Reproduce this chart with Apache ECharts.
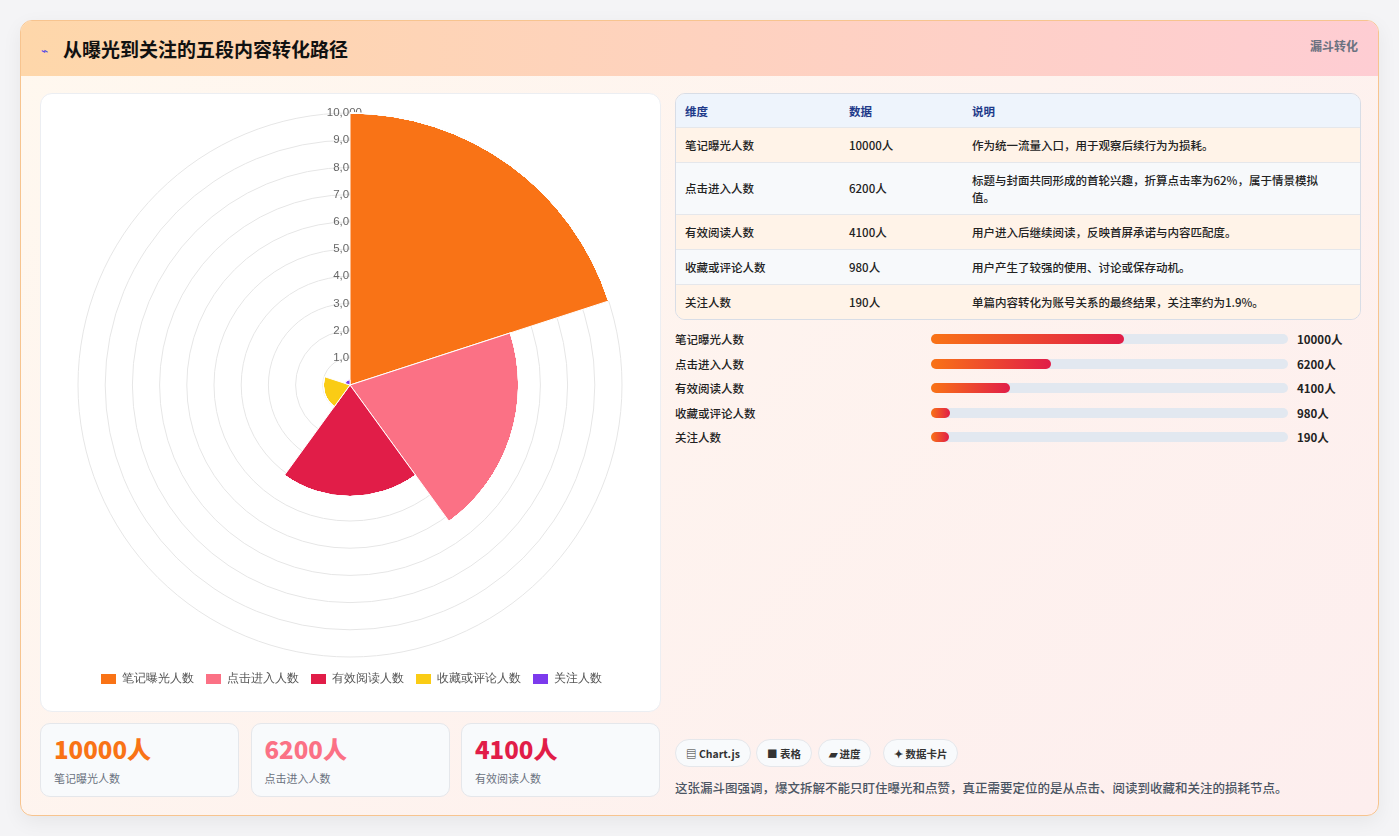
<!DOCTYPE html>
<html><head><meta charset="utf-8">
<script src="https://cdn.jsdelivr.net/npm/echarts@6/dist/echarts.min.js"></script>
<style>
*{box-sizing:border-box;margin:0;padding:0}
body{width:1399px;height:836px;background:#f4f4f6;font-family:"Noto Sans CJK SC","Noto Sans",sans-serif;position:relative;overflow:hidden}
.card{position:absolute;left:20px;top:20px;width:1359px;height:796px;border:1px solid #f7c48f;border-radius:12px;background:linear-gradient(135deg,#fff8ef,#fdeeee);overflow:hidden;box-shadow:0 6px 20px rgba(0,0,0,.06)}
.head{height:55px;background:linear-gradient(90deg,#fed7aa,#fecdd3);position:relative}
.head h1{position:absolute;left:42px;top:14px;font-size:19px;font-weight:700;color:#111}
.head .ic{position:absolute;left:20px;top:20px;font-size:12px;color:#4f46e5}
.head .tag{position:absolute;right:20px;top:16px;font-size:12px;color:#6b7280;font-weight:600}
#chart{position:absolute;left:19px;top:72px;width:621px;height:619px;background:#fff;border:1px solid #eceef2;border-radius:12px}
.kpi{position:absolute;top:702px;width:199px;height:74px;background:#f8fafc;border:1px solid #e5e7eb;border-radius:10px;padding:10px 13px}
.kpi b{display:block;font-size:24px;font-weight:800;line-height:30px}
.kpi span{font-size:11px;color:#6b7280}
table{position:absolute;left:654px;top:72px;width:686px;border-collapse:separate;border-spacing:0;border:1px solid #d8dde6;border-radius:10px;overflow:hidden;font-size:11.5px;color:#222;font-weight:500}
th{background:#eef4fc;color:#1e3a8a;text-align:left;font-weight:600;height:33px;padding:0 9px}
td{padding:6px 9px;border-top:1px solid #e5e7eb;vertical-align:middle;line-height:17px}
tr:nth-child(even) td{background:#fff3e8}tr:nth-child(odd) td{background:#f7f9fb}
.prow{position:absolute;left:654px;width:700px;height:20px;font-size:11.5px;color:#222;font-weight:500}
.prow .l{position:absolute;left:0;top:2px}
.prow .t{position:absolute;left:256px;top:5px;width:357px;height:10px;border-radius:5px;background:#e2e8f0}
.prow .f{height:10px;border-radius:5px;background:linear-gradient(90deg,#f97316,#e11d48)}
.prow .v{position:absolute;left:622px;top:2px;font-weight:600}
.chip{position:absolute;top:718px;height:28px;border:1px solid #e5e7eb;border-radius:14px;background:#f8fafc;font-size:10.5px;font-weight:600;color:#333;padding:6px 10px}
.note{position:absolute;left:654px;top:757px;font-size:12.5px;font-weight:500;color:#4b5563}
</style></head><body>
<div class="card">
<div class="head"><span class="ic">⌁</span><h1>从曝光到关注的五段内容转化路径</h1><span class="tag">漏斗转化</span></div>
<div id="chart"></div>
<div id="kpis"></div>
<table id="tbl"></table>
<div id="prog"></div>
<div class="chip" style="left:654px">▤ Chart.js</div>
<div class="chip" style="left:735px">■ 表格</div>
<div class="chip" style="left:797px">▰ 进度</div>
<div class="chip" style="left:862px">✦ 数据卡片</div>
<div class="note">这张漏斗图强调，爆文拆解不能只盯住曝光和点赞，真正需要定位的是从点击、阅读到收藏和关注的损耗节点。</div>
</div>
<script>
const categories=["笔记曝光人数","点击进入人数","有效阅读人数","收藏或评论人数","关注人数"];
const values=[10000,6200,4100,980,190];
const colors=["#f97316","#fb7185","#e11d48","#facc15","#7c3aed"];
const notes=["作为统一流量入口，用于观察后续行为为损耗。","标题与封面共同形成的首轮兴趣，折算点击率为62%，属于情景模拟值。","用户进入后继续阅读，反映首屏承诺与内容匹配度。","用户产生了较强的使用、讨论或保存动机。","单篇内容转化为账号关系的最终结果，关注率约为1.9%。"];
const radiusTicks=[0,1000,2000,3000,4000,5000,6000,7000,8000,9000,10000];

let h='<tr><th style="width:164px">维度</th><th style="width:123px">数据</th><th>说明</th></tr>';
categories.forEach((c,i)=>{h+=`<tr><td>${c}</td><td>${values[i]}人</td><td style="height:${i==1?52:35}px;padding-right:26px">${notes[i]}</td></tr>`});
document.getElementById('tbl').innerHTML=h;
let p='';const mx=Math.max(...values);
categories.forEach((c,i)=>{const w=Math.max(values[i]/mx*54,5);p+=`<div class="prow" style="top:${308+i*24.5}px"><span class="l">${c}</span><div class="t"><div class="f" style="width:${w}%"></div></div><span class="v">${values[i]}人</span></div>`});
document.getElementById('prog').innerHTML=p;
let k='';[0,1,2].forEach(i=>{k+=`<div class="kpi" style="left:${19+i*210.5}px"><b style="color:${colors[i]}">${values[i]}人</b><span>${categories[i]}</span></div>`});
document.getElementById('kpis').innerHTML=k;

const ch=echarts.init(document.getElementById('chart'));
ch.setOption({
 animation:false,
 legend:{bottom:20,itemWidth:17,itemHeight:12,itemGap:10,textStyle:{color:'#555',fontSize:11.5},data:categories,icon:'rect'},
 polar:{center:[309,291],radius:272},
 angleAxis:{type:'category',data:categories,startAngle:90,clockwise:true,axisLine:{show:false},axisTick:{show:false},axisLabel:{show:false},splitLine:{show:false}},
 radiusAxis:{type:'value',min:0,max:10000,interval:1000,z:1,axisLine:{show:false},axisTick:{show:false},
  axisLabel:{color:'#666',fontSize:11.5,margin:-12,formatter:v=>v===0?'':v.toLocaleString('en-US')},
  splitLine:{lineStyle:{color:'#e6e6e6'}}},
 series:categories.map((c,i)=>({type:'bar',coordinateSystem:'polar',name:c,stack:'s',barCategoryGap:'0%',z:5,
   itemStyle:{color:colors[i],borderColor:'#fff',borderWidth:1},
   data:values.map((v,j)=>j===i?v:0)}))
});
</script></body></html>
